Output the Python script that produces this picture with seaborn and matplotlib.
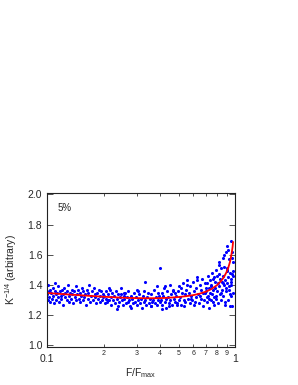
import matplotlib
matplotlib.use("Agg")
import matplotlib.pyplot as plt
import matplotlib.ticker as mticker
import seaborn as sns

# scatter points, segment by segment along F/Fmax
x_a = [0.100,0.101,0.101,0.102,0.103,0.104,0.104,0.105,0.106,0.107,
       0.108,0.109,0.110,0.110,0.111,0.112,0.113,0.114,0.115,0.116,
       0.117,0.118,0.119,0.120,0.121,0.122,0.123,0.124,0.125,0.127,
       0.128,0.129,0.130,0.131,0.132,0.134,0.135,0.136,0.138,0.139,
       0.140,0.142,0.143,0.145,0.146,0.147,0.149,0.150,0.152,0.153,
       0.155,0.156,0.158,0.160,0.161,0.163,0.165,0.166,0.168,0.170,
       0.171,0.173,0.175,0.177,0.179,0.180,0.182,0.184,0.186,0.188,
       0.190,0.192,0.194,0.196,0.198,0.199]
y_a = [1.34,1.30,1.40,1.36,1.32,1.29,1.37,1.35,1.31,1.38,
       1.33,1.28,1.36,1.41,1.34,1.30,1.35,1.32,1.39,1.29,
       1.36,1.33,1.31,1.37,1.27,1.34,1.38,1.32,1.35,1.30,
       1.36,1.40,1.33,1.29,1.35,1.31,1.37,1.34,1.28,1.36,
       1.32,1.39,1.30,1.34,1.37,1.31,1.35,1.29,1.33,1.38,
       1.30,1.36,1.32,1.34,1.27,1.37,1.31,1.35,1.40,1.29,
       1.33,1.36,1.30,1.38,1.32,1.34,1.28,1.35,1.31,1.37,
       1.29,1.33,1.36,1.30,1.34,1.32]

x_b = [0.201,0.203,0.205,0.207,0.209,0.211,0.213,0.216,0.218,0.220,
       0.222,0.225,0.227,0.229,0.232,0.234,0.237,0.239,0.242,0.244,
       0.247,0.249,0.252,0.255,0.257,0.260,0.263,0.266,0.268,0.271,
       0.274,0.277,0.280,0.283,0.286,0.289,0.292,0.296,0.299,0.302,
       0.305,0.309,0.312,0.315,0.319,0.322,0.326,0.329,0.333,0.336,
       0.340,0.344,0.347,0.351,0.355,0.359,0.363,0.367,0.371,0.375,
       0.379,0.383,0.387,0.391,0.395,0.399,
       0.214,0.236,0.258,0.281,0.304,0.331,0.357,0.385,0.212,0.246]
y_b = [1.33,1.28,1.36,1.31,1.29,1.34,1.30,1.37,1.32,1.27,
       1.35,1.30,1.33,1.28,1.36,1.31,1.26,1.34,1.29,1.32,
       1.38,1.30,1.27,1.33,1.31,1.35,1.28,1.32,1.29,1.36,
       1.30,1.26,1.33,1.31,1.28,1.35,1.29,1.32,1.37,1.27,
       1.30,1.34,1.28,1.31,1.25,1.33,1.29,1.36,1.30,1.27,
       1.32,1.35,1.28,1.31,1.26,1.34,1.29,1.30,1.37,1.28,
       1.32,1.27,1.35,1.30,1.33,1.29,
       1.38,1.24,1.35,1.25,1.36,1.42,1.26,1.39,1.30,1.34]

x_c = [0.402,0.406,0.410,0.414,0.418,0.422,0.427,0.431,0.435,0.440,
       0.444,0.449,0.453,0.458,0.462,0.467,0.472,0.477,0.481,0.486,
       0.491,0.496,0.501,0.506,0.512,0.517,0.522,0.528,0.533,0.539,
       0.544,0.550,0.555,0.561,0.567,0.573,0.579,0.585,0.591,0.597,
       0.603,0.609,0.616,0.622,0.628,0.635,0.641,0.648,0.655,0.661,
       0.668,0.675,0.682,0.689,0.696,
       0.408,0.425,0.447,0.470,0.493,0.515,0.537,0.558,0.582,0.606,
       0.630,0.652,0.672,0.690,0.400]
y_c = [1.30,1.35,1.27,1.33,1.38,1.29,1.31,1.25,1.36,1.32,
       1.28,1.40,1.30,1.34,1.27,1.37,1.31,1.29,1.35,1.33,
       1.28,1.36,1.30,1.39,1.32,1.27,1.35,1.41,1.30,1.34,
       1.29,1.37,1.43,1.31,1.35,1.28,1.39,1.33,1.30,1.42,
       1.36,1.29,1.38,1.32,1.45,1.34,1.28,1.40,1.37,1.31,
       1.44,1.35,1.30,1.41,1.38,
       1.24,1.39,1.26,1.36,1.27,1.38,1.26,1.40,1.31,1.27,
       1.43,1.33,1.26,1.35,1.51]

x_d = [0.702,0.706,0.710,0.714,0.718,0.722,0.726,0.730,0.734,0.738,
       0.742,0.746,0.750,0.755,0.759,0.763,0.767,0.772,0.776,0.780,
       0.785,0.789,0.793,0.798,0.802,0.807,0.811,0.816,0.820,0.825,
       0.829,0.834,0.838,0.843,0.848,0.852,0.857,0.862,0.866,0.871,
       0.876,0.881,0.885,0.890,0.895,0.900,0.905,0.910,0.915,0.920,
       0.925,0.930,0.935,0.940,0.945,0.950,0.955,0.960,0.965,0.970,
       0.975,0.980,
       0.712,0.740,0.770,0.795,0.818,0.840,0.860,0.878,0.892,0.908,
       0.922,0.938,0.952,0.968,0.978,0.883,0.902,0.928,0.946,0.962]
y_d = [1.36,1.29,1.41,1.33,1.46,1.31,1.38,1.25,1.43,1.35,1.30,
       1.40,1.34,1.48,1.29,1.37,1.44,1.32,1.27,1.42,1.38,1.50,1.33,1.46,
       1.36,1.41,1.28,1.47,1.39,1.55,1.34,1.44,1.30,1.51,1.42,1.37,
       1.46,1.58,1.33,1.40,1.52,1.27,1.43,1.62,1.36,1.49,
       1.41,1.66,1.30,1.45,1.57,1.39,1.48,1.26,1.69,1.44,
       1.40,1.47,1.62,1.35,1.55,1.49,
       1.32,1.39,1.45,1.31,1.53,1.35,1.41,1.60,1.38,1.50,
       1.63,1.34,1.42,1.58,1.46,1.29,1.51,1.37,1.33,1.26]

# red fit curve
fit_x = [0.10,0.12,0.15,0.20,0.25,0.30,0.35,0.40,0.45,0.50,0.55,0.60,
         0.65,0.70,0.75,0.80,0.84,0.87,0.90,0.92,0.94,0.96,0.97,0.975]
fit_y = [1.347,1.340,1.332,1.322,1.316,1.313,1.312,1.313,1.316,1.320,1.326,1.333,
         1.343,1.356,1.374,1.398,1.425,1.450,1.485,1.515,1.555,1.615,1.655,1.685]

minor_labels = ['2', '3', '4', '5', '6', '7', '8', '9']

sns.set_style("ticks")
plt.rcParams['font.family'] = ['Liberation Sans', 'DejaVu Sans']
plt.rcParams['mathtext.default'] = 'regular'

fig = plt.figure(figsize=(2.98, 3.85), dpi=100)
ax = fig.add_axes([0.158, 0.099, 0.631, 0.400])

sx = x_a + x_b + x_c + x_d
sy = y_a + y_b + y_c + y_d
sns.scatterplot(x=sx, y=sy, ax=ax, s=5, color='#0000ff', linewidth=0, marker='o')
sns.lineplot(x=fit_x, y=fit_y, ax=ax, color='#ff0000', linewidth=1.3, sort=False)

ax.set_xscale('log')
ax.set_xlim(0.1, 1.0)
ax.set_ylim(0.99, 2.01)
ax.set_yticks([1.0, 1.2, 1.4, 1.6, 1.8, 2.0])
ax.yaxis.set_major_formatter(mticker.FormatStrFormatter('%.1f'))
ax.xaxis.set_major_locator(mticker.FixedLocator([0.1, 1.0]))
ax.xaxis.set_major_formatter(mticker.FixedFormatter(['0.1', '1']))
ax.xaxis.set_minor_locator(mticker.FixedLocator([0.2, 0.3, 0.4, 0.5, 0.6, 0.7, 0.8, 0.9]))
ax.xaxis.set_minor_formatter(mticker.FixedFormatter(minor_labels))

ax.tick_params(axis='both', which='both', direction='in', top=True, right=True,
               width=0.6, color='#333333')
ax.tick_params(axis='both', which='major', length=4, labelsize=7.5)
ax.tick_params(axis='x', which='major', pad=5)
ax.tick_params(axis='x', which='minor', length=2.5, labelsize=5, pad=2)
for sp in ax.spines.values():
    sp.set_linewidth(0.8)
    sp.set_color('#222222')

ax.set_xlabel('F/F$_{max}$', fontsize=7.5, labelpad=2)
ax.set_ylabel('K$^{-1/4}$ (arbitrary)', fontsize=7.5, labelpad=6)
ax.text(0.055, 0.90, '5%', transform=ax.transAxes, fontsize=7, va='center')

fig.savefig('out.png', dpi=100)
